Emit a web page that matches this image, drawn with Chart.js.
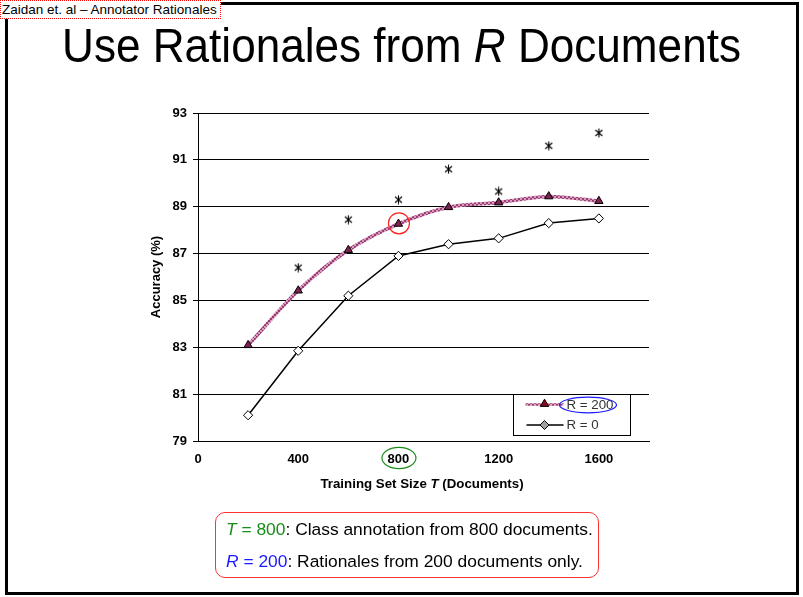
<!DOCTYPE html>
<html>
<head>
<meta charset="utf-8">
<script src="https://cdn.jsdelivr.net/npm/chart.js@4.4.0/dist/chart.umd.min.js"></script>
<style>
  html, body { margin: 0; padding: 0; background: #fff; }
  body { width: 803px; height: 597px; position: relative; overflow: hidden; font-family: "Liberation Sans", Arial, sans-serif; }
  #c { position: absolute; left: 0; top: 0; }
  #frame { position: absolute; left: 5px; top: 2px; width: 794px; height: 593px; border: 3px solid #000; box-sizing: border-box; }
  #header { position: absolute; left: 0; top: 0; width: 221px; height: 19px; box-sizing: border-box; border: 1px dotted #f00; background: #fff; font-size: 13.5px; line-height: 17px; padding-left: 1px; white-space: nowrap; color: #000; }
  #title { position: absolute; left: 0; top: 21px; width: 803px; text-align: center; font-size: 49px; line-height: 49px; transform: scaleX(0.9); color: #000; white-space: nowrap; }
  #note { position: absolute; left: 215px; top: 512px; width: 384px; height: 66px; box-sizing: border-box; border: 1px solid #f33; border-radius: 10px; }
  .line { position: absolute; left: 226px; font-size: 17.4px; line-height: 20px; white-space: nowrap; color: #000; }
  .g { color: #1a8c1a; }
  .b { color: #1a1aff; }
</style>
</head>
<body>
<canvas id="c" width="803" height="597"></canvas>
<div id="frame"></div>
<div id="header">Zaidan et. al – Annotator Rationales</div>
<div id="title">Use Rationales from <i>R</i> Documents</div>
<div id="note"></div>
<div class="line" style="top:519px"><span class="g"><i>T</i> = 800</span>: Class annotation from 800 documents.</div>
<div class="line" style="top:551px"><span class="b"><i>R</i> = 200</span>: Rationales from 200 documents only.</div>

<script>
// training set sizes (x) and accuracies
const sizes = [200, 400, 600, 800, 1000, 1200, 1400, 1600];
const r200 = [83.09, 85.42, 87.15, 88.27, 88.98, 89.18, 89.44, 89.24];
const r0 = [80.1, 82.85, 85.2, 86.9, 87.4, 87.65, 88.3, 88.5];
const stars = [null, 86.4, 88.45, 89.3, 90.6, 89.65, 91.6, 92.15];

const xTicks = [0, 400, 800, 1200, 1600];
const yTicks = [79, 81, 83, 85, 87, 89, 91, 93];
const legendLabels = ['R = 200', 'R = 0'];

const FONT = '"Liberation Sans", Arial, sans-serif';
const canvas = document.getElementById('c');
const ctx = canvas.getContext('2d');

// hatched pink texture for the R = 200 line
function pinkPattern() {
  const c = document.createElement('canvas');
  c.width = 4; c.height = 4;
  const g = c.getContext('2d');
  g.fillStyle = '#d69cbf';
  g.fillRect(0, 0, 4, 4);
  g.fillStyle = '#9c3d72';
  g.fillRect(0, 0, 2, 2);
  g.fillRect(2, 2, 2, 2);
  return ctx.createPattern(c, 'repeat');
}

// asterisk marker (x with a vertical bar)
function starMarker() {
  const c = document.createElement('canvas');
  c.width = 9; c.height = 10;
  const g = c.getContext('2d');
  g.strokeStyle = '#000';
  g.lineWidth = 1.1;
  g.beginPath();
  g.moveTo(1, 2); g.lineTo(8, 8);
  g.moveTo(8, 2); g.lineTo(1, 8);
  g.moveTo(4.5, 0.5); g.lineTo(4.5, 9.5);
  g.stroke();
  return c;
}

const pts = arr => sizes.map((s, i) => ({ x: s, y: arr[i] }));

function drawTri(c, x, y, r, fill) {
  c.beginPath();
  c.moveTo(x, y - r);
  c.lineTo(x + r * 0.866, y + r / 2);
  c.lineTo(x - r * 0.866, y + r / 2);
  c.closePath();
  c.fillStyle = fill; c.fill();
  c.strokeStyle = '#000'; c.lineWidth = 1; c.stroke();
}

function drawDiamond(c, x, y, r, fill) {
  c.beginPath();
  c.moveTo(x - r, y); c.lineTo(x, y - r); c.lineTo(x + r, y); c.lineTo(x, y + r);
  c.closePath();
  c.fillStyle = fill; c.fill();
  c.strokeStyle = '#000'; c.lineWidth = 1; c.stroke();
}

const extras = {
  id: 'extras',
  afterDraw(chart) {
    const c = chart.ctx;
    const a = chart.chartArea;
    const { x, y } = chart.scales;
    c.save();

    // x axis title with italic T
    const parts = [['Training Set Size ', 'bold'], ['T', 'italic bold'], [' (Documents)', 'bold']];
    let total = 0;
    parts.forEach(p => { c.font = p[1] + ' 13.3px ' + FONT; total += c.measureText(p[0]).width; });
    let tx = (a.left + a.right) / 2 - 1.5 - total / 2;
    c.fillStyle = '#000';
    c.textBaseline = 'alphabetic';
    c.textAlign = 'left';
    parts.forEach(p => {
      c.font = p[1] + ' 13.3px ' + FONT;
      c.fillText(p[0], tx, a.bottom + 47);
      tx += c.measureText(p[0]).width;
    });

    // legend box
    const bw = 117, bh = 41;
    const lx = Math.round(a.right - 19 - bw) + 0.5, ly = Math.round(a.bottom - 6 - bh) + 0.5;
    c.fillStyle = '#fff';
    c.fillRect(lx, ly, bw, bh);
    c.strokeStyle = '#000'; c.lineWidth = 1;
    c.strokeRect(lx, ly, bw, bh);
    const rows = [ly + 10, ly + 30.5];
    // R = 200 sample
    c.strokeStyle = pinkPattern(); c.lineWidth = 2.5;
    c.beginPath(); c.moveTo(lx + 12, rows[0]); c.lineTo(lx + 50, rows[0]); c.stroke();
    drawTri(c, lx + 31, rows[0] - 0.5, 4.8, '#8b0a1e');
    // R = 0 sample
    c.strokeStyle = '#000'; c.lineWidth = 1.5;
    c.beginPath(); c.moveTo(lx + 13, rows[1]); c.lineTo(lx + 50, rows[1]); c.stroke();
    drawDiamond(c, lx + 31, rows[1], 4.5, '#a0a0a0');
    c.font = '13.3px ' + FONT;
    c.fillStyle = '#333';
    c.textBaseline = 'middle';
    legendLabels.forEach((t, i) => c.fillText(t, lx + 53, rows[i] + 0.5));

    // blue ellipse around the R = 200 legend entry
    c.strokeStyle = '#1a1aff'; c.lineWidth = 1.2;
    c.beginPath(); c.ellipse(lx + 74.5, rows[0] + 0.5, 28.5, 7.8, 0, 0, Math.PI * 2); c.stroke();

    // red circle around the T = 800 point
    const px = x.getPixelForValue(800);
    const py = y.getPixelForValue(r200[sizes.indexOf(800)]);
    c.strokeStyle = '#f22'; c.lineWidth = 1.2;
    c.beginPath(); c.arc(px + 0.5, py - 0.5, 10.5, 0, Math.PI * 2); c.stroke();

    // green ellipse around the 800 tick label
    c.strokeStyle = '#1a8c1a'; c.lineWidth = 1.2;
    c.beginPath(); c.ellipse(px + 0.5, a.bottom + 17, 17, 10.7, 0, 0, Math.PI * 2); c.stroke();

    c.restore();
  }
};

new Chart(ctx, {
  type: 'line',
  data: {
    datasets: [
      {
        label: 'stars',
        data: pts(stars),
        showLine: false,
        pointStyle: starMarker(),
        pointRadius: 4
      },
      {
        label: 'R = 0',
        data: pts(r0),
        borderColor: '#000',
        borderWidth: 1.5,
        pointStyle: 'rectRot',
        pointRadius: 4.6,
        pointBackgroundColor: '#fff',
        pointBorderColor: '#000',
        pointBorderWidth: 1,
        tension: 0
      },
      {
        label: 'R = 200',
        data: pts(r200),
        borderColor: pinkPattern(),
        borderWidth: 3.5,
        pointStyle: 'triangle',
        pointRadius: 4.8,
        pointBackgroundColor: '#7d2350',
        pointBorderColor: '#000',
        pointBorderWidth: 1,
        tension: 0.3
      }
    ]
  },
  options: {
    responsive: false,
    animation: false,
    devicePixelRatio: 1,
    layout: { padding: { left: 138, top: 113, right: 154, bottom: 96 } },
    plugins: { legend: { display: false }, tooltip: { enabled: false } },
    scales: {
      x: {
        type: 'linear',
        min: 0,
        max: 1800,
        afterBuildTicks: s => { s.ticks = xTicks.map(v => ({ value: v })); },
        afterFit: s => { s.height = 60; },
        grid: { drawOnChartArea: false, drawTicks: false },
        border: { display: true, color: '#000', width: 1 },
        ticks: {
          color: '#000', padding: 11, maxRotation: 0,
          callback: v => String(v),
          font: { family: FONT, size: 13, weight: 'bold' }
        }
      },
      y: {
        min: 79,
        max: 93,
        afterBuildTicks: s => { s.ticks = yTicks.map(v => ({ value: v })); },
        afterFit: s => { s.width = 60; },
        grid: { color: '#000', lineWidth: 1, tickLength: 5 },
        border: { display: true, color: '#000', width: 1 },
        ticks: { color: '#000', padding: 6, font: { family: FONT, size: 13, weight: 'bold' } },
        title: {
          display: true,
          text: 'Accuracy (%)',
          color: '#000',
          padding: { top: 11, bottom: 0 },
          font: { family: FONT, size: 13, weight: 'bold' }
        }
      }
    }
  },
  plugins: [extras]
});
</script>
</body>
</html>
